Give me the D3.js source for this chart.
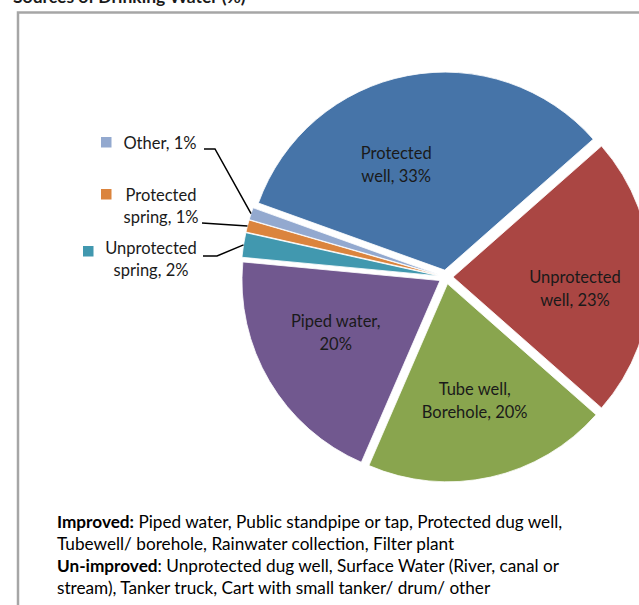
<!DOCTYPE html>
<html>
<head>
<meta charset="utf-8">
<script src="https://cdn.jsdelivr.net/npm/d3@7"></script>
<style>
  body { margin: 0; background: #fff; }
  svg { display: block; font-family: Lato, "Open Sans", sans-serif; }
</style>
</head>
<body>
<div id="chart"></div>
<script>
// Data
const categories = ["Protected well", "Unprotected well", "Tube well, Borehole", "Piped water",
                    "Unprotected spring", "Protected spring", "Other"];
const values = [33, 23, 20, 20, 2, 1, 1];
const colors = ["#4674a8", "#aa4643", "#89a54e", "#71588f", "#4198af", "#db843d", "#93a9cf"];
const insideLabels = [["Protected", "well, 33%"], ["Unprotected", "well, 23%"],
                      ["Tube well,", "Borehole, 20%"], ["Piped water,", "20%"]];
const outsideLabels = [["Unprotected", "spring, 2%"], ["Protected", "spring, 1%"], ["Other, 1%"]];
const title = "Sources of Drinking Water (%)";
const noteLines = [
    [["Improved:", true], [" Piped water, Public standpipe or tap, Protected dug well,", false]],
    [["Tubewell/ borehole, Rainwater collection, Filter plant", false]],
    [["Un-improved", true], [": Unprotected dug well, Surface Water (River, canal or", false]],
    [["stream), Tanker truck, Cart with small tanker/ drum/ other", false]]
];

const width = 639, height = 605;
const cx = 446, cy = 277, radius = 198, explode = 7;
const startAngle = -70.2 * Math.PI / 180;

const svg = d3.select("#chart").append("svg")
    .attr("width", width)
    .attr("height", height);

// title (cut off at the top, as in the original)
svg.append("text")
    .attr("x", 13)
    .attr("y", 3)
    .style("font-size", "17.5px")
    .style("font-weight", "bold")
    .attr("fill", "#1a1a1a")
    .text(title);

// frame
svg.append("rect")
    .attr("x", 18)
    .attr("y", 12.5)
    .attr("width", 700)
    .attr("height", 700)
    .attr("fill", "none")
    .attr("stroke", "#a6a6a6")
    .attr("stroke-width", 2.5);

const pie = d3.pie()
    .sort(null)
    .value(d => d)
    .startAngle(startAngle)
    .endAngle(startAngle + 2 * Math.PI);

const arcs = pie(values);
const arc = d3.arc().innerRadius(0).outerRadius(radius);

const dir = a => [Math.sin(a), -Math.cos(a)];
const midAngle = d => (d.startAngle + d.endAngle) / 2;

const g = svg.append("g").attr("transform", `translate(${cx},${cy})`);

g.selectAll("path.slice")
    .data(arcs)
    .enter()
    .append("path")
    .attr("class", "slice")
    .attr("d", arc)
    .attr("fill", (d, i) => colors[i])
    .attr("stroke", "#fff")
    .attr("stroke-width", 0.8)
    .attr("transform", d => {
        const [dx, dy] = dir(midAngle(d));
        return `translate(${dx * explode},${dy * explode})`;
    });

// labels inside the large slices
const fontSize = "16.5px";
const labelR = 120;
const labelNudge = [[-26, 13], [2, 12], [1, 1], [-1, -8]];
insideLabels.forEach((lines, i) => {
    const d = arcs[i];
    const [dx, dy] = dir(midAngle(d));
    const x = dx * (labelR + explode) + labelNudge[i][0];
    const y = dy * (labelR + explode) + labelNudge[i][1];
    const t = g.append("text")
        .attr("text-anchor", "middle")
        .attr("fill", "#1a1a1a")
        .style("font-size", fontSize);
    lines.forEach((s, k) => {
        t.append("tspan")
            .attr("x", x)
            .attr("y", y + (k - (lines.length - 1) / 2) * 23 + 5)
            .text(s);
    });
});

// labels with legend keys and leader lines for the small slices
const outsideLayout = [
    { idx: 4, cx: 151, y: 254, keyX: 83, keyY: 246, lineX: 203, lineY: 256, elbow: 217 },
    { idx: 5, cx: 161, y: 201, keyX: 101, keyY: 189, lineX: 202, lineY: 223, elbow: null },
    { idx: 6, cx: 160, y: 149, keyX: 101, keyY: 137, lineX: 204, lineY: 149, elbow: 215 }
];

outsideLayout.forEach((o, j) => {
    const d = arcs[o.idx];
    const [dx, dy] = dir(midAngle(d));
    const ex = cx + dx * (radius + explode);
    const ey = cy + dy * (radius + explode);
    const pts = [[o.lineX, o.lineY]];
    if (o.elbow !== null) pts.push([o.elbow, o.lineY]);
    pts.push([ex, ey]);
    svg.append("path")
        .attr("d", d3.line()(pts))
        .attr("fill", "none")
        .attr("stroke", "#000")
        .attr("stroke-width", 1.5);

    svg.append("rect")
        .attr("x", o.keyX)
        .attr("y", o.keyY)
        .attr("width", 10.5)
        .attr("height", 10.5)
        .attr("fill", colors[o.idx]);

    const t = svg.append("text")
        .attr("text-anchor", "middle")
        .attr("fill", "#1a1a1a")
        .style("font-size", fontSize);
    outsideLabels[j].forEach((s, k) => {
        t.append("tspan")
            .attr("x", o.cx)
            .attr("y", o.y + k * 22)
            .text(s);
    });
});

// note below the chart
noteLines.forEach((parts, i) => {
    const t = svg.append("text")
        .attr("x", 57)
        .attr("y", 528 + i * 22)
        .attr("fill", "#000")
        .style("font-size", "17.2px");
    parts.forEach(([s, bold]) => {
        t.append("tspan")
            .style("font-weight", bold ? "bold" : "normal")
            .text(s);
    });
});
</script>
</body>
</html>
